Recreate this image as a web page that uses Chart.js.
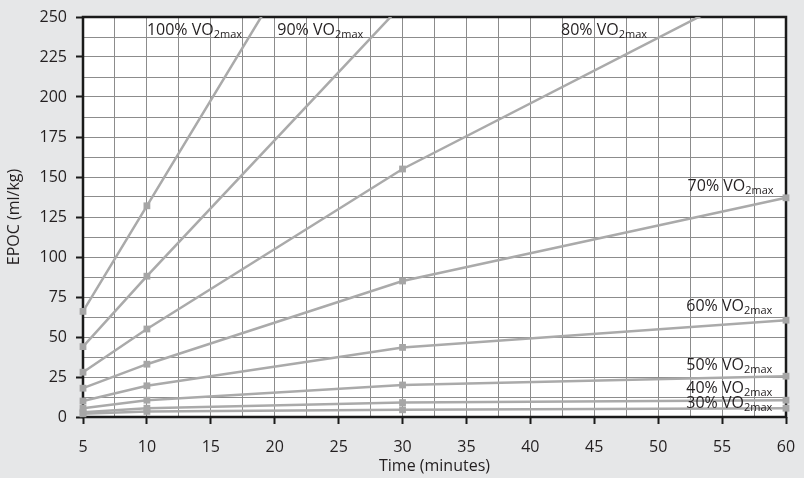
<!DOCTYPE html>
<html lang="en">
<head>
    <meta charset="UTF-8">
    <title>EPOC vs time</title>
    <style>
        body { margin: 0; background: #e6e7e8; }
    </style>
</head>
<body>
    <div style="width: 804px; height: 478px;">
        <canvas id="grafico"></canvas>
    </div>

    <script src="https://cdn.jsdelivr.net/npm/chart.js"></script>

    <script>
        // dados
        const tempos = [5, 10, 30, 60]
        const intensidades = ['100%', '90%', '80%', '70%', '60%', '50%', '40%', '30%']
        const epoc100 = [66, 132, 396, 792]
        const epoc90 = [44, 88, 258, 500]
        const epoc80 = [28, 55, 155, 278]
        const epoc70 = [18, 33, 85, 137]
        const epoc60 = [10, 19.5, 43.5, 60.5]
        const epoc50 = [5.5, 10.5, 20, 25.5]
        const epoc40 = [3, 5.5, 9, 10.5]
        const epoc30 = [2, 3.5, 4.5, 5.5]
        const ticksX = [5, 10, 15, 20, 25, 30, 35, 40, 45, 50, 55, 60]
        const ticksY = [0, 25, 50, 75, 100, 125, 150, 175, 200, 225, 250]

        const series = [epoc100, epoc90, epoc80, epoc70, epoc60, epoc50, epoc40, epoc30]

        // onde cada rótulo fica (em unidades do gráfico)
        const posRotulos = [[10, 239], [20.2, 239], [42.4, 239], [52.3, 141], [52.2, 66], [52.2, 29.5], [52.2, 15], [52.2, 5.5]]

        const fonte = "'Open Sans', sans-serif"

        const fundoArea = {
            id: 'fundoArea',
            beforeDraw(chart) {
                const { ctx, chartArea: a } = chart
                ctx.save()
                ctx.fillStyle = '#ffffff'
                ctx.fillRect(a.left, a.top, a.right - a.left, a.bottom - a.top)
                ctx.restore()
            }
        }

        // borda preta embaixo das linhas, rótulos por cima
        const bordaERotulos = {
            id: 'bordaERotulos',
            beforeDatasetsDraw(chart) {
                const { ctx, chartArea: a } = chart
                ctx.save()
                ctx.strokeStyle = '#1a1a1a'
                ctx.lineWidth = 2.5
                ctx.strokeRect(a.left, a.top, a.right - a.left, a.bottom - a.top)
                ctx.restore()
            },
            afterDatasetsDraw(chart) {
                const { ctx, scales } = chart
                ctx.save()
                ctx.fillStyle = '#231f20'
                ctx.textBaseline = 'alphabetic'
                ctx.textAlign = 'left'
                intensidades.forEach((nome, i) => {
                    const x = scales.x.getPixelForValue(posRotulos[i][0])
                    const y = scales.y.getPixelForValue(posRotulos[i][1])
                    const principal = nome + ' VO'
                    ctx.font = '16px ' + fonte
                    ctx.fillText(principal, x, y)
                    const w = ctx.measureText(principal).width
                    ctx.font = '11px ' + fonte
                    ctx.fillText('2max', x + w, y + 3)
                })
                ctx.restore()
            }
        }

        const ctx = document.getElementById('grafico')

        let grafico = new Chart(ctx, {
            type: 'line',
            data: {
                datasets: series.map((valores, i) => ({
                    label: intensidades[i] + ' VO2max',
                    data: tempos.map((t, j) => ({ x: t, y: valores[j] })),
                    borderColor: '#aaaaaa',
                    backgroundColor: '#a6a6a6',
                    borderWidth: 2.5,
                    pointStyle: 'rect',
                    pointRadius: 4.8,
                    pointBorderWidth: 0,
                    tension: 0,
                    clip: { left: 8, top: 0, right: 8, bottom: 8 }
                }))
            },
            options: {
                responsive: true,
                maintainAspectRatio: false,
                animation: false,
                layout: { padding: { left: 0, right: 18, top: 17, bottom: 0 } },
                plugins: {
                    legend: { display: false },
                    tooltip: { enabled: false }
                },
                scales: {
                    x: {
                        type: 'linear',
                        min: 5,
                        max: 60,
                        afterFit: s => { s.height = 61; s.paddingLeft = 0; s.paddingRight = 0 },
                        border: { display: false },
                        grid: {
                            color: '#8c8c8c',
                            lineWidth: 1,
                            tickLength: 7,
                            tickColor: c => ticksX.includes(c.tick.value) ? '#1a1a1a' : 'rgba(0,0,0,0)',
                            tickWidth: 2
                        },
                        ticks: {
                            stepSize: 2.5,
                            autoSkip: false,
                            maxRotation: 0,
                            padding: 14,
                            color: '#231f20',
                            font: { family: fonte, size: 16 },
                            callback: v => ticksX.includes(v) ? v : ''
                        },
                        title: {
                            display: true,
                            text: 'Time (minutes)',
                            color: '#231f20',
                            font: { family: fonte, size: 16 },
                            padding: { top: 0, bottom: 1.5 }
                        }
                    },
                    y: {
                        min: 0,
                        max: 250,
                        afterFit: s => { s.width = 83; s.paddingTop = 0; s.paddingBottom = 0 },
                        border: { display: false },
                        grid: {
                            color: '#8c8c8c',
                            lineWidth: 1,
                            tickLength: 7,
                            tickColor: c => ticksY.includes(c.tick.value) ? '#1a1a1a' : 'rgba(0,0,0,0)',
                            tickWidth: 2
                        },
                        ticks: {
                            stepSize: 12.5,
                            autoSkip: false,
                            padding: 9,
                            color: '#231f20',
                            font: { family: fonte, size: 16 },
                            callback: v => ticksY.includes(v) ? v : ''
                        },
                        title: {
                            display: true,
                            text: 'EPOC (ml/kg)',
                            color: '#231f20',
                            font: { family: fonte, size: 16 },
                            padding: { top: 5, bottom: 0 }
                        }
                    }
                }
            },
            plugins: [fundoArea, bordaERotulos]
        })
    </script>
</body>
</html>
